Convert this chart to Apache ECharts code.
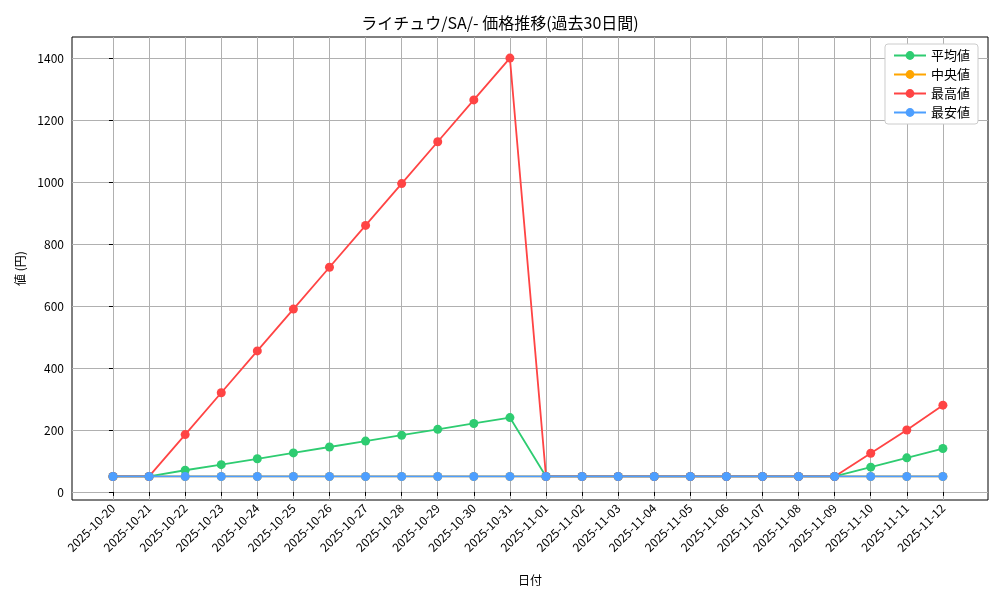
<!DOCTYPE html><html><head><meta charset="utf-8"><script src="https://cdn.jsdelivr.net/npm/echarts@6/dist/echarts.min.js"></script></head><body style="margin:0"><div id="c" style="width:1000px;height:600px"></div><script>
const dates=['2025-10-20','2025-10-21','2025-10-22','2025-10-23','2025-10-24','2025-10-25','2025-10-26','2025-10-27','2025-10-28','2025-10-29','2025-10-30','2025-10-31','2025-11-01','2025-11-02','2025-11-03','2025-11-04','2025-11-05','2025-11-06','2025-11-07','2025-11-08','2025-11-09','2025-11-10','2025-11-11','2025-11-12'];
const avgV=[50,50,70,88,107,126,145,164,183,202,221,240,50,50,50,50,50,50,50,50,50,80,110,140];
const medV=[50,50,50,50,50,50,50,50,50,50,50,50,50,50,50,50,50,50,50,50,50,50,50,50];
const maxV=[50,50,185,320,455,590,725,860,995,1130,1265,1400,50,50,50,50,50,50,50,50,50,125,200,280];
const minV=[50,50,50,50,50,50,50,50,50,50,50,50,50,50,50,50,50,50,50,50,50,50,50,50];
const yTicks=[0,200,400,600,800,1000,1200,1400];
const idx=dates.map((d,i)=>i);
const F='Noto Sans CJK JP';
const mk=(name,vals,color)=>({name,type:'line',data:vals.map((v,i)=>[i,v]),symbol:'circle',symbolSize:9,itemStyle:{color},lineStyle:{color,width:1.8},z:name==='最安値'?5:(name==='中央値'?3:4)});
const ch=echarts.init(document.getElementById('c'));
ch.setOption({animation:false,textStyle:{fontFamily:F},
title:{text:'ライチュウ/SA/- 価格推移(過去30日間)',left:'center',top:10,textStyle:{fontFamily:F,fontSize:16,fontWeight:'normal',color:'#000'}},
legend:{right:22,top:44,orient:'vertical',itemGap:6,backgroundColor:'#fff',borderColor:'#ccc',borderWidth:1,borderRadius:3,padding:[5,8],itemWidth:32,itemHeight:11,textStyle:{fontFamily:F,fontSize:13,color:'#000'},data:['平均値','中央値','最高値','最安値']},
grid:{left:72,right:12,top:37,bottom:100,show:true,borderColor:'#000',borderWidth:1,backgroundColor:'transparent'},
xAxis:{type:'value',min:-1.136,max:24.25,name:'日付',nameLocation:'middle',nameGap:74,nameTextStyle:{fontFamily:F,fontSize:12,color:'#000'},
axisLine:{show:false},axisTick:{show:true,customValues:idx,length:4,lineStyle:{color:'#000'}},
axisLabel:{customValues:idx,rotate:45,formatter:v=>dates[Math.round(v)],fontSize:12,color:'#000',margin:6,fontFamily:F},
splitLine:{show:true,lineStyle:{color:'#b0b0b0',width:1}}},
yAxis:{type:'value',min:-26,max:1468,name:'値 (円)',nameLocation:'middle',nameGap:40,nameTextStyle:{fontFamily:F,fontSize:12,color:'#000'},
axisLine:{show:false},axisTick:{show:true,customValues:yTicks,length:4,lineStyle:{color:'#000'}},
axisLabel:{customValues:yTicks,formatter:v=>String(v),fontSize:12,color:'#000',fontFamily:F},
splitLine:{show:true,lineStyle:{color:'#b0b0b0',width:1}}},
series:[mk('平均値',avgV,'#2ecc71'),mk('中央値',medV,'#ffa500'),mk('最高値',maxV,'#ff4444'),mk('最安値',minV,'#4d9fff')]});
</script></body></html>
